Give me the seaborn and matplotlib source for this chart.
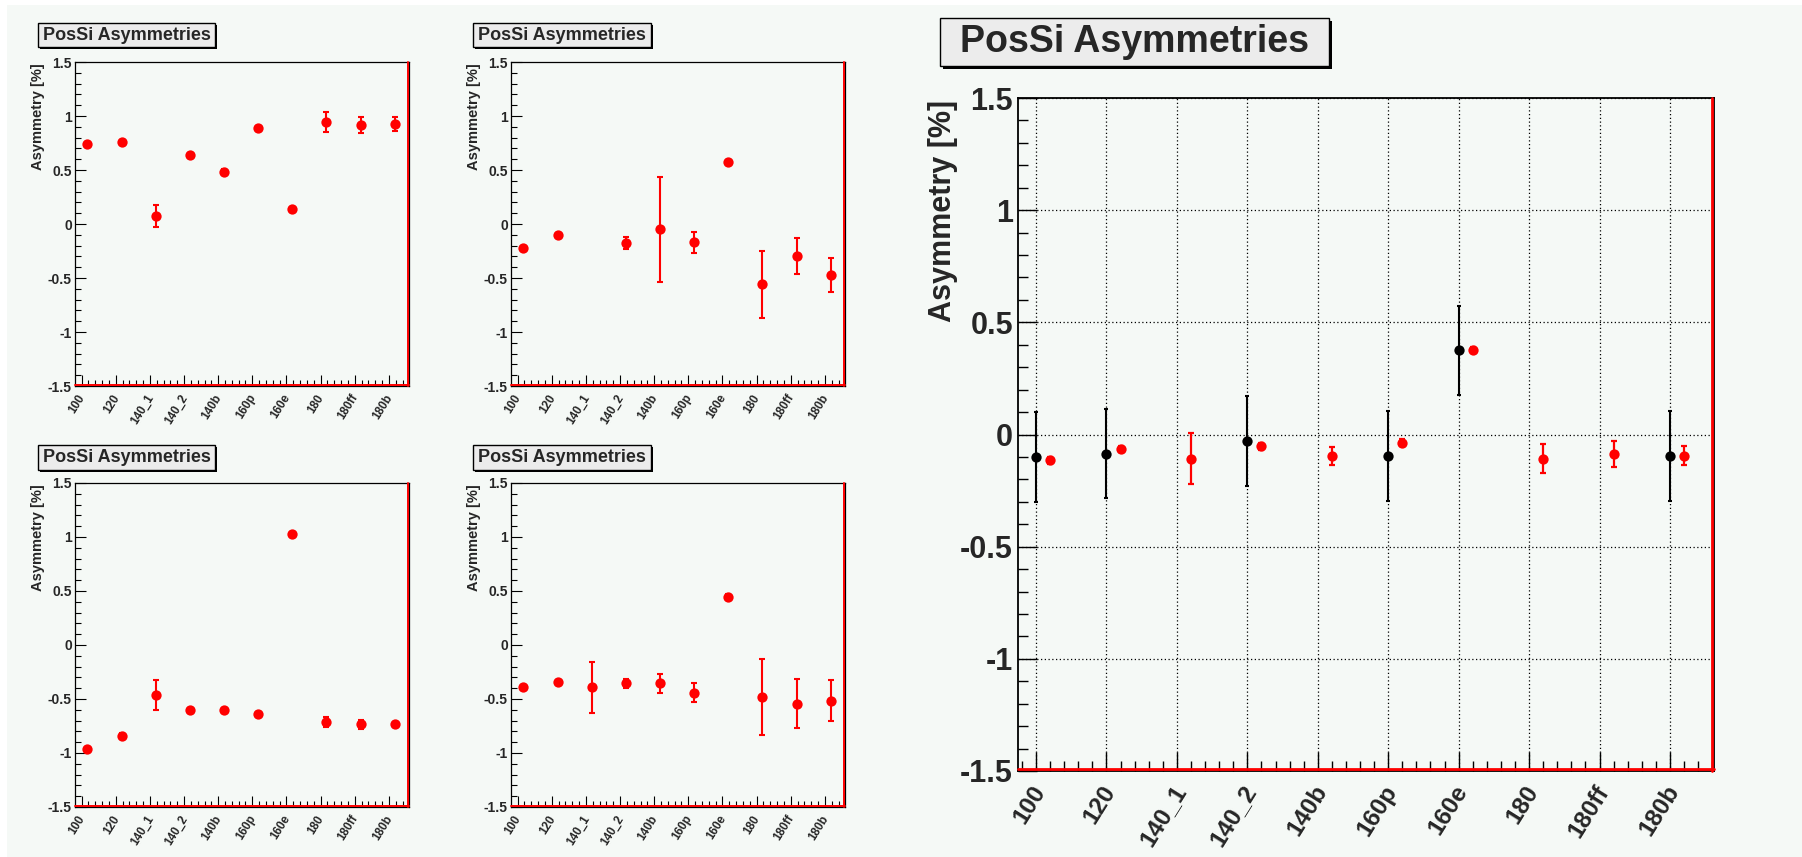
import numpy as np
import pandas as pd
import matplotlib
matplotlib.use("Agg")
import matplotlib.pyplot as plt
import seaborn as sns
from matplotlib.patches import Rectangle
from matplotlib.lines import Line2D
from matplotlib.ticker import MultipleLocator, FixedLocator, FuncFormatter
from matplotlib.transforms import blended_transform_factory, offset_copy

nan = np.nan

# ---------------- data ----------------
categories = ["100", "120", "140_1", "140_2", "140b", "160p", "160e", "180", "180ff", "180b"]

p1_vals = [0.74, 0.76, 0.075, 0.635, 0.485, 0.885, 0.135, 0.945, 0.92, 0.93]
p1_errs = [0.02, 0.02, 0.10, 0.02, 0.02, 0.02, 0.02, 0.095, 0.075, 0.065]

p2_vals = [-0.22, -0.10, nan, -0.176, -0.05, -0.17, 0.57, -0.556, -0.296, -0.47]
p2_errs = [0.02, 0.02, nan, 0.055, 0.483, 0.095, 0.02, 0.31, 0.168, 0.155]

p3_vals = [-0.965, -0.838, -0.465, -0.603, -0.603, -0.64, 1.03, -0.715, -0.735, -0.735]
p3_errs = [0.02, 0.02, 0.14, 0.02, 0.02, 0.02, 0.02, 0.045, 0.045, 0.02]

p4_vals = [-0.393, -0.346, -0.393, -0.356, -0.356, -0.442, 0.449, -0.479, -0.544, -0.516]
p4_errs = [0.02, 0.02, 0.235, 0.04, 0.085, 0.09, 0.02, 0.35, 0.225, 0.19]

big_black_vals = [-0.10, -0.085, nan, -0.03, nan, -0.095, 0.375, nan, nan, -0.095]
big_black_errs = [0.20, 0.20, nan, 0.20, nan, 0.20, 0.20, nan, nan, 0.20]

big_red_vals = [-0.115, -0.065, -0.107, -0.053, -0.095, -0.036, 0.378, -0.107, -0.085, -0.095]
big_red_errs = [0.015, 0.015, 0.113, 0.015, 0.04, 0.015, 0.01, 0.065, 0.058, 0.043]

title_text = "PosSi Asymmetries"
ylabel_text = "Asymmetry [%]"

# ---------------- style ----------------
sns.set_style("white")
plt.rcParams["font.family"] = ["Liberation Sans", "DejaVu Sans"]
plt.rcParams["font.weight"] = "bold"
plt.rcParams["axes.unicode_minus"] = False

W, H = 1802, 857
BG = "#f5f9f6"
fig = plt.figure(figsize=(W / 100, H / 100), dpi=100)
fig.patch.set_facecolor("white")
fig.add_artist(Rectangle((7 / W, 0), 1, 1 - 5 / H, transform=fig.transFigure,
                         facecolor=BG, edgecolor="none", zorder=-10))


def add_ax(l, t, r, b):
    return fig.add_axes([l / W, 1 - b / H, (r - l) / W, (b - t) / H])


def title_box(l, t, r, b, size, shadow):
    fig.add_artist(Rectangle(((l + shadow) / W, 1 - (b + shadow) / H), (r - l) / W, (b - t) / H,
                             transform=fig.transFigure, facecolor="black", edgecolor="none", zorder=5))
    fig.add_artist(Rectangle((l / W, 1 - b / H), (r - l) / W, (b - t) / H,
                             transform=fig.transFigure, facecolor="#ececec", edgecolor="black",
                             linewidth=1, zorder=6))
    fig.text((l + r) / 2 / W, 1 - (t + b) / 2 / H, title_text, ha="center", va="center",
             fontsize=size, fontweight="bold", zorder=7)


def draw_series(ax, vals, errs, color, offset, msize, elw, cap):
    df = pd.DataFrame({"pos": np.arange(len(categories)) + offset,
                       "val": vals, "err": errs})
    ax.errorbar(df["pos"], df["val"], yerr=df["err"], fmt="none", ecolor=color,
                elinewidth=elw, capsize=cap, capthick=elw, zorder=3)
    sns.scatterplot(data=df, x="pos", y="val", color=color, s=msize, linewidth=0,
                    marker="o", ax=ax, zorder=4, legend=False)


def style_axes(ax, xlim, big):
    ax.set_facecolor(BG)
    ax.set_xlim(*xlim)
    ax.set_ylim(-1.5, 1.5)
    ax.xaxis.set_major_locator(FixedLocator(range(len(categories))))
    ax.xaxis.set_minor_locator(MultipleLocator(0.2))
    ax.yaxis.set_major_locator(MultipleLocator(0.5))
    ax.yaxis.set_minor_locator(MultipleLocator(0.1))
    ax.yaxis.set_major_formatter(FuncFormatter(lambda v, p: f"{round(v, 2) + 0:g}"))
    for s in ax.spines.values():
        s.set_visible(True)
        s.set_color("black")
        s.set_linewidth(1.3 if big else 0.9)
    ax.tick_params(which="both", direction="in", top=False, right=False,
                   left=True, bottom=True, color="black", labelbottom=False)
    if big:
        ax.tick_params(which="major", length=14, width=1.0)
        ax.tick_params(which="minor", length=7.5, width=1.0)
        ax.tick_params(axis="y", labelsize=22, pad=3.6)
        ax.grid(True, which="major", color="black", linestyle=(0, (1, 2)), linewidth=0.9)
    else:
        ax.tick_params(which="major", length=8, width=0.8)
        ax.tick_params(which="minor", length=4.3, width=0.8)
        ax.tick_params(axis="y", labelsize=10, pad=2.2)
        ax.grid(False)
    ax.set_xlabel("")
    ax.set_ylabel(ylabel_text, fontsize=22 if big else 10.5, fontweight="bold", loc="top")
    ax.yaxis.set_label_coords(-0.086 if big else -0.09, 0.997)
    # red inner frame lines (bottom and right), as in the original
    off = 1.6 if big else 1.0
    ax.add_line(Line2D([0, 1], [0, 0], transform=offset_copy(ax.transAxes, fig=fig, y=off, units="dots"),
                       color="red", linewidth=2.0 if big else 1.4, clip_on=False, zorder=2.6))
    ax.add_line(Line2D([1, 1], [0, 1], transform=offset_copy(ax.transAxes, fig=fig, x=-off, units="dots"),
                       color="red", linewidth=2.0 if big else 1.4, clip_on=False, zorder=2.6))
    # rotated category labels
    trans = blended_transform_factory(ax.transData, ax.transAxes)
    dx, dy = (14, 10) if big else (6, 6)
    ttrans = offset_copy(trans, fig=fig, x=dx, y=-dy, units="dots")
    for i, c in enumerate(categories):
        ax.text(i, 0, c, transform=ttrans, rotation=58, ha="right", va="top",
                fontsize=17.5 if big else 8.5, fontweight="bold", clip_on=False)


# ---------------- small panels ----------------
small_specs = [
    ((75, 62, 409, 386), (38, 23, 215, 47), p1_vals, p1_errs),
    ((511, 62, 845, 386), (473, 23, 651, 47), p2_vals, p2_errs),
    ((75, 483, 409, 807), (38, 445, 215, 470), p3_vals, p3_errs),
    ((511, 483, 845, 807), (473, 445, 651, 470), p4_vals, p4_errs),
]
for frame, box, vals, errs in small_specs:
    ax = add_ax(*frame)
    draw_series(ax, vals, errs, "red", 0.17, 55, 1.5, 2.2)
    style_axes(ax, (-0.195, 9.59), big=False)
    title_box(*box, size=13, shadow=2)

# ---------------- big panel ----------------
axb = add_ax(1018, 98, 1714, 771)
draw_series(axb, big_black_vals, big_black_errs, "black", 0.0, 55, 1.5, 1.5)
draw_series(axb, big_red_vals, big_red_errs, "red", 0.2, 55, 1.6, 2.0)
style_axes(axb, (-0.256, 9.625), big=True)
title_box(940, 18, 1329, 66, size=27, shadow=3)

fig.savefig("out.png", dpi=100, facecolor=fig.get_facecolor())
